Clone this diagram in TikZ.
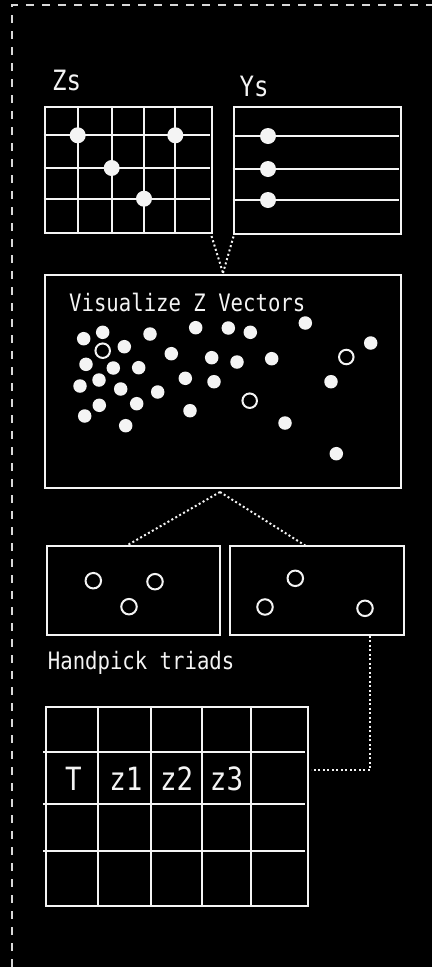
\documentclass[tikz,border=0pt]{standalone}
\usepackage{fontspec}
\newfontfamily\monofont[FakeStretch=0.86]{DejaVu Sans Mono}
\usetikzlibrary{calc}
\definecolor{fg}{HTML}{F4F4F4}
\definecolor{dashcol}{HTML}{D8D8D8}
\begin{document}
\begin{tikzpicture}[x=1pt,y=-1pt,
  box/.style={draw=fg, line width=2pt, inner sep=0pt, outer sep=0pt, anchor=north west, rectangle},
  gridline/.style={draw=fg, line width=2pt},
  bigdot/.style={circle, fill=fg, inner sep=0pt, minimum size=16pt},
  vdot/.style={circle, fill=fg, inner sep=0pt, minimum size=13.5pt},
  ring/.style={circle, draw=fg, line width=2pt, inner sep=0pt, minimum size=14.5pt},
  bigring/.style={ring, minimum size=15.5pt},
  link/.style={draw=fg, line width=2pt, dash pattern=on 2pt off 2.5pt},
  border/.style={draw=dashcol, line width=1.3pt, dash pattern=on 8pt off 8pt},
  lbl/.style={text=fg, inner sep=0pt, anchor=base west, font=\monofont\fontsize{24}{28}\selectfont},
  biglbl/.style={text=fg, inner sep=0pt, anchor=base west, font=\monofont\fontsize{28}{32}\selectfont},
  celltxt/.style={text=fg, inner sep=0pt, anchor=base, font=\monofont\fontsize{32}{36}\selectfont}
]
\useasboundingbox (0,0) rectangle (432,967);
\fill[black] (0,0) rectangle (432,967);
\draw[border] (12,967) -- (12,5) -- (432,5);

% Zs
\node[biglbl] (zslbl) at (52,90.7) {Zs};
\node[box, minimum width=167pt, minimum height=126.5pt] (zs) at (44.5,106.5) {};
\foreach \x in {77.7,111.7,144,175.3} \draw[gridline] (\x,106.5) -- (\x,233);
\foreach \y in {135.3,168,198.7} \draw[gridline] (43.5,\y) -- (210,\y);
\node[bigdot] (za) at (77.7,135.3) {};
\node[bigdot] (zb) at (175.3,135.3) {};
\node[bigdot] (zc) at (111.7,168) {};
\node[bigdot] (zd) at (144,198.7) {};

% Ys
\node[biglbl] (yslbl) at (239.5,96) {Ys};
\node[box, minimum width=167pt, minimum height=126.5pt] (ys) at (233.5,107) {};
\foreach \y in {136,169,200} \draw[gridline] (232.5,\y) -- (398.5,\y);
\node[bigdot] (ya) at (268,136) {};
\node[bigdot] (yb) at (268,169) {};
\node[bigdot] (yc) at (268,200) {};

% Visualize
\node[box, minimum width=356pt, minimum height=213pt] (viz) at (45,275) {};
\node[lbl] (vizlbl) at (69,311) {Visualize Z Vectors};
\foreach \p [count=\i] in {(83.7,338.7),(102.7,332.3),(150,334),(195.7,327.7),(228.3,328),(250.3,332.3),(305.3,323),(370.7,343),
  (124.3,346.7),(171.3,353.7),(211.7,357.7),(237,362),(271.7,358.7),(86,364.3),(113.3,368),(138.7,367.7),
  (80,386),(99,380),(185.3,378.3),(214,381.7),(331,381.7),(120.7,389),(157.7,392),(99.3,405.3),(136.7,403.7),
  (84.7,416),(190,410.7),(125.7,425.7),(285,423),(336.3,453.7)}
  \node[vdot] (v\i) at \p {};
\node[ring] (r1) at (102.7,350.7) {};
\node[ring] (r2) at (346.3,357) {};
\node[ring] (r3) at (249.7,400.7) {};

% Handpicked boxes
\node[box, minimum width=173.3pt, minimum height=88.4pt] (pick1) at (46.7,546.3) {};
\node[box, minimum width=174pt, minimum height=89.3pt] (pick2) at (230,545.7) {};
\node[bigring] (p1a) at (93.3,580.7) {};
\node[bigring] (p1b) at (155,581.7) {};
\node[bigring] (p1c) at (129,606.7) {};
\node[bigring] (p2a) at (295.3,578.3) {};
\node[bigring] (p2b) at (265,607) {};
\node[bigring] (p2c) at (365,608.3) {};
\node[lbl] (picklbl) at (47.7,669) {Handpick triads};

% Table
\node[box, minimum width=262pt, minimum height=199.3pt] (tbl) at (45.7,706.7) {};
\foreach \x in {97.7,151,202.3,251.3} \draw[gridline] (\x,706.7) -- (\x,906);
\foreach \y in {752,804,851.3} \draw[gridline] (43,\y) -- (305,\y);
\node[celltxt] (cT) at (73.5,790) {T};
\node[celltxt] (c1) at (126,790) {z1};
\node[celltxt] (c2) at (176.7,790) {z2};
\node[celltxt] (c3) at (226.5,790) {z3};

% connectors
\coordinate (vtop) at ($(viz.north)+(0,-2)$);
\draw[link] ($(zs.south east)+(0,3)$) -- (vtop);
\draw[link] ($(ys.south west)+(0,3)$) -- (vtop);
\coordinate (vbot) at ($(viz.south)+(-3,4)$);
\coordinate (p1in) at (126,546);
\coordinate (p2in) at (306,546);
\draw[link] (vbot) -- (p1in);
\draw[link] (vbot) -- (p2in);
\coordinate (p2out) at (370,635.5);
\coordinate (tin) at (311,770);
\draw[link] (p2out) |- (tin);
\end{tikzpicture}
\end{document}
